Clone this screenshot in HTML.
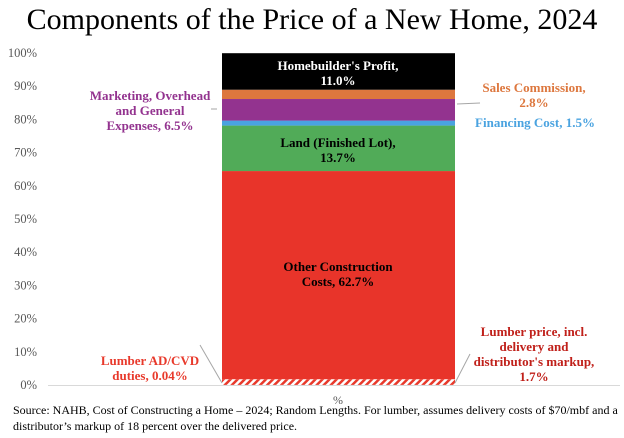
<!DOCTYPE html>
<html><head><meta charset="utf-8"><style>
body{margin:0;background:#fff;width:624px;height:438px;overflow:hidden}
svg{display:block;font-family:"Liberation Serif",serif}
</style></head><body>
<svg id="c" width="624" height="438">
<defs><pattern id="hatch" width="5" height="5" patternUnits="userSpaceOnUse" patternTransform="rotate(45)"><rect width="5" height="5" fill="#fff"/><rect width="2.5" height="5" fill="#e8392b"/></pattern></defs>
<text x="312" y="29" text-anchor="middle" font-size="30" fill="#000">Components of the Price of a New Home, 2024</text>
<g id="axis"></g><g id="bars"></g>
<text x="338" y="422" font-size="12" fill="#000">
<tspan x="13" y="414">Source: NAHB, Cost of Constructing a Home – 2024; Random Lengths.  For lumber, assumes delivery costs of $70/mbf and a</tspan>
<tspan x="13" y="430">distributor’s markup of 18 percent over the delivered price.</tspan></text>
</svg>
<script>
const ticks=[0,10,20,30,40,50,60,70,80,90,100];
const names=["Lumber AD/CVD duties","Lumber price","Other Construction Costs","Land","Financing Cost","Marketing","Sales Commission","Homebuilder's Profit"];
const values=[0.04,1.7,62.7,13.7,1.5,6.5,2.8,11.0];
const colors=["url(#hatch)","url(#hatch)","#e8342a","#51ab58","#4aa3e0","#93338f","#dd773e","#000"];
const y0=385,y1=53,bx=222,bw=233;
const y=v=>y0-(y0-y1)*v/100;
const ns="http://www.w3.org/2000/svg";
function mk(t,a,p,txt){const e=document.createElementNS(ns,t);for(const k in a)e.setAttribute(k,a[k]);if(txt!=null)e.textContent=txt;p.appendChild(e);return e;}
const ax=document.getElementById('axis'),bg=document.getElementById('bars');
ticks.forEach(t=>{const e=mk('text',{x:37,y:y(t)+4,'text-anchor':'end','font-size':12.5,fill:'#595959'},ax,t+'%');

});
const bl=mk('line',{x1:48,x2:620,y1:y0+0.5,y2:y0+0.5,stroke:'#d9d9d9'},ax);


const xl=mk('text',{x:338,y:404,'text-anchor':'middle','font-size':12,fill:'#595959'},ax,'%');


let cum=0;
values.forEach((v,i)=>{const r=mk('rect',{x:bx,width:bw,y:y(cum+v),height:y(cum)-y(cum+v),fill:colors[i]},bg);

cum+=v;});
function lab(lines,x,yy,col,anchor,name){const t=mk('text',{x:x,y:yy,'text-anchor':anchor,'font-size':13,'font-weight':'bold',fill:col},bg);
lines.forEach((l,i)=>mk('tspan',{x:x,dy:i?15:0},t,l));

}
lab(["Homebuilder's Profit,","11.0%"],338,70,'#fff','middle','label-profit');
lab(["Sales Commission,","2.8%"],534,92,'#dd773e','middle','label-sales');
lab(["Marketing, Overhead","and General","Expenses, 6.5%"],150,100,'#93338f','middle','label-marketing');
lab(["Financing Cost, 1.5%"],535,127,'#4aa3e0','middle','label-financing');
lab(["Land (Finished Lot),","13.7%"],338,147,'#000','middle','label-land');
lab(["Other Construction","Costs, 62.7%"],338,271,'#000','middle','label-other');
lab(["Lumber AD/CVD","duties, 0.04%"],150,365,'#e8392b','middle','label-duties');
lab(["Lumber price, incl.","delivery and","distributor's markup,","1.7%"],534,336,'#c0201a','middle','label-lumber');
[[457,104,480,103],[217,109,211,109],[200,345,222,383],[455,383,470,354]].forEach((l,i)=>{const e=mk('line',{x1:l[0],y1:l[1],x2:l[2],y2:l[3],stroke:'#a6a6a6'},bg);

});
</script>
</body></html>
